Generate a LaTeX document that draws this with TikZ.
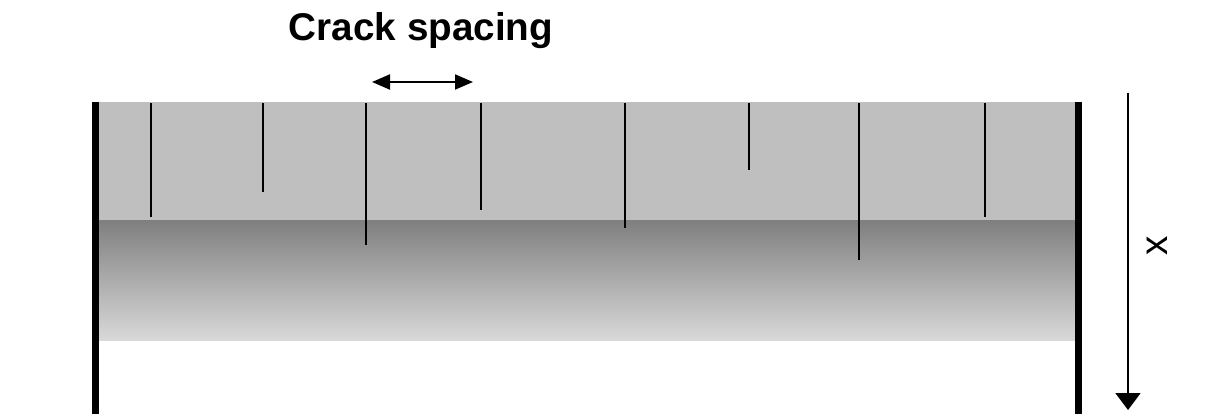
\documentclass[tikz,border=0pt]{standalone}
\usepackage{fontspec}
\setmainfont{Liberation Sans}
\usetikzlibrary{arrows.meta, positioning}

\begin{document}
\begin{tikzpicture}[
    x=0.02cm, y=-0.02cm,
    every node/.style={align=center, inner sep=0pt},
    wall/.style={line width=4pt},
    crack/.style={line width=1.6pt},
    dimarrow/.style={line width=1.1pt, {Triangle[length=0.36cm, width=0.3cm]}-{Triangle[length=0.36cm, width=0.3cm]}},
    deptharrow/.style={line width=1.1pt, -{Triangle[length=0.34cm, width=0.5cm]}}
]
    \useasboundingbox (0,0) rectangle (1216,418);

    % Specimen: uncracked layer on top, graded zone below
    \fill[black!25] (99,102) rectangle (1075,221);
    \shade[top color=black!50, bottom color=black!15] (99,221) rectangle (1075,340);

    % Cracks from the surface (x position / tip depth)
    \foreach \cx/\cy in {151/217, 263/192, 366/245, 481/210, 625/228, 749/170, 859/260, 985/217}
        \draw[crack] (\cx,103) -- (\cx,\cy);

    % Side walls
    \draw[wall] (95.5,102) -- (95.5,414);
    \draw[wall] (1078,102) -- (1078,414);

    % Title and spacing arrow
    \node[font=\fontsize{22}{26}\selectfont\bfseries] (title) at (421,31) {Crack spacing};
    \coordinate (spL) at (372,82);
    \coordinate (spR) at (473,82);
    \draw[dimarrow] (spL) -- (spR);

    % Depth axis
    \coordinate (axTop) at (1128,93);
    \coordinate (axBot) at (1128,410);
    \draw[deptharrow] (axTop) -- (axBot);
    \node[font=\fontsize{22}{26}\selectfont, rotate=90] (xlab) at (1157,246) {x};

\end{tikzpicture}
\end{document}
